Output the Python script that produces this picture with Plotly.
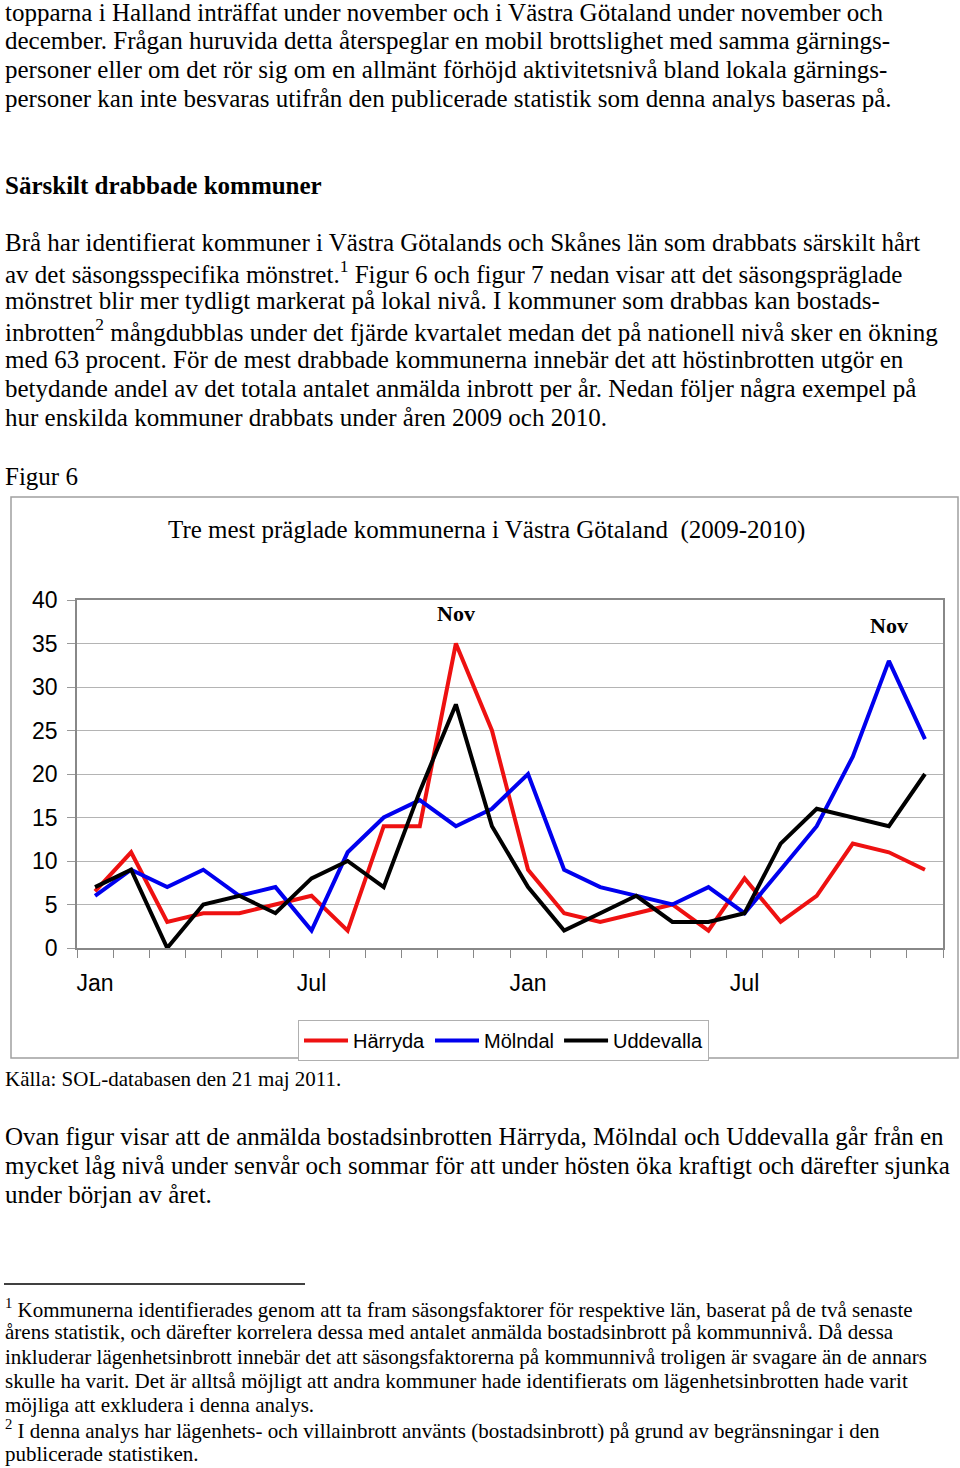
import plotly.graph_objects as go

W, H = 960, 1468

# ---------------- data ----------------
months = ["Jan", "Feb", "Mar", "Apr", "Maj", "Jun", "Jul", "Aug", "Sep", "Okt", "Nov", "Dec"] * 2
tick_positions = [0, 6, 12, 18]
tick_labels = ["Jan", "Jul", "Jan", "Jul"]

harryda = [6.5, 11, 3, 4, 4, 5, 6, 2, 14, 14, 35, 25,
           9, 4, 3, 4, 5, 2, 8, 3, 6, 12, 11, 9]
molndal = [6, 9, 7, 9, 6, 7, 2, 11, 15, 17, 14, 16,
           20, 9, 7, 6, 5, 7, 4, 9, 14, 22, 33, 24]
uddevalla = [7, 9, 0, 5, 6, 4, 8, 10, 7, 18, 28, 14,
             7, 2, 4, 6, 3, 3, 4, 12, 16, 15, 14, 20]

series_names = ["Härryda", "Mölndal", "Uddevalla"]
series_colors = ["#ee1111", "#0000ee", "#000000"]
peak_labels = [(10, "Nov", -1), (22, "Nov", 11)]

# ---------------- text ----------------
para1 = [
    "topparna i Halland inträffat under november och i Västra Götaland under november och",
    "december. Frågan huruvida detta återspeglar en mobil brottslighet med samma gärnings-",
    "personer eller om det rör sig om en allmänt förhöjd aktivitetsnivå bland lokala gärnings-",
    "personer kan inte besvaras utifrån den publicerade statistik som denna analys baseras på.",
]
para1_y = [12, 41, 70, 98]
heading = "<b>Särskilt drabbade kommuner</b>"
para2 = [
    "Brå har identifierat kommuner i Västra Götalands och Skånes län som drabbats särskilt hårt",
    "av det säsongsspecifika mönstret.<sup>1</sup> Figur 6 och figur 7 nedan visar att det säsongspräglade",
    "mönstret blir mer tydligt markerat på lokal nivå. I kommuner som drabbas kan bostads-",
    "inbrotten<sup>2</sup> mångdubblas under det fjärde kvartalet medan det på nationell nivå sker en ökning",
    "med 63 procent. För de mest drabbade kommunerna innebär det att höstinbrotten utgör en",
    "betydande andel av det totala antalet anmälda inbrott per år. Nedan följer några exempel på",
    "hur enskilda kommuner drabbats under åren 2009 och 2010.",
]
para2_y = [243, 272, 301, 330, 359, 388, 417]
para3 = [
    "Ovan figur visar att de anmälda bostadsinbrotten Härryda, Mölndal och Uddevalla går från en",
    "mycket låg nivå under senvår och sommar för att under hösten öka kraftigt och därefter sjunka",
    "under början av året.",
]
para3_y = [1136, 1165, 1194]
notes = [
    "<sup>1</sup> Kommunerna identifierades genom att ta fram säsongsfaktorer för respektive län, baserat på de två senaste",
    "årens statistik, och därefter korrelera dessa med antalet anmälda bostadsinbrott på kommunnivå. Då dessa",
    "inkluderar lägenhetsinbrott innebär det att säsongsfaktorerna på kommunnivå troligen är svagare än de annars",
    "skulle ha varit. Det är alltså möjligt att andra kommuner hade identifierats om lägenhetsinbrotten hade varit",
    "möjliga att exkludera i denna analys.",
    "<sup>2</sup> I denna analys har lägenhets- och villainbrott använts (bostadsinbrott) på grund av begränsningar i den",
    "publicerade statistiken.",
]
notes_y = [1308, 1332, 1357, 1381, 1405, 1429, 1454]

SERIF = "Liberation Serif, Times New Roman, serif"
SANS = "Liberation Sans, Arial, sans-serif"


def px(x):
    return x / W


def py(y):
    return 1 - y / H


x_idx = list(range(len(months)))

fig = go.Figure()
for name, vals, col in zip(series_names, [harryda, molndal, uddevalla], series_colors):
    fig.add_trace(go.Scatter(x=x_idx, y=vals, mode="lines", name=name,
                             line=dict(color=col, width=4)))

annotations = []


def add_text(text, x, y, size, font=SERIF, xanchor="left"):
    annotations.append(dict(text=text, x=px(x), y=py(y), xref="paper", yref="paper",
                            xanchor=xanchor, yanchor="middle", showarrow=False,
                            font=dict(family=font, size=size, color="black")))


for t, y in zip(para1, para1_y):
    add_text(t, 3, y, 25)
add_text(heading, 3, 185, 25)
for t, y in zip(para2, para2_y):
    add_text(t, 3, y, 25)
add_text("Figur 6", 3, 476, 25)
add_text("Tre mest präglade kommunerna i Västra Götaland  (2009-2010)", 486, 530, 25, xanchor="center")
add_text("Källa: SOL-databasen den 21 maj 2011.", 3, 1079, 21)
for t, y in zip(para3, para3_y):
    add_text(t, 3, y, 25)
for t, y in zip(notes, notes_y):
    add_text(t, 3, y, 21)

for xi, lab, shift in peak_labels:
    annotations.append(dict(text="<b>%s</b>" % lab, x=xi, y=40, xref="x", yref="y",
                            xanchor="center", yanchor="top", yshift=-shift, showarrow=False,
                            font=dict(family=SERIF, size=22, color="black")))

shapes = [
    dict(type="rect", xref="paper", yref="paper", x0=px(11), x1=px(958), y0=py(1058), y1=py(497),
         line=dict(color="#a0a0a0", width=1.5)),
    dict(type="line", xref="paper", yref="paper", x0=px(4), x1=px(305), y0=py(1284), y1=py(1284),
         line=dict(color="black", width=1.5)),
]

fig.update_layout(
    width=W, height=H,
    margin=dict(l=0, r=0, t=0, b=0, autoexpand=False),
    paper_bgcolor="white", plot_bgcolor="white",
    showlegend=True,
    legend=dict(orientation="h", x=px(298), y=py(1020), xanchor="left", yanchor="top",
                bordercolor="#b0b0b0", borderwidth=1,
                font=dict(family=SANS, size=20, color="black"),
                itemwidth=44, tracegroupgap=0),
    annotations=annotations,
    shapes=shapes,
    xaxis=dict(domain=[px(77), px(943)], range=[-0.5, len(months) - 0.5],
               tickmode="array", tickvals=tick_positions, ticktext=tick_labels, ticks="",
               ticklabelstandoff=14,
               tickfont=dict(family=SANS, size=23, color="black"),
               showgrid=False, zeroline=False,
               showline=True, linecolor="#888888", linewidth=1.5, mirror=True,
               minor=dict(tick0=-0.5, dtick=1, ticks="outside", ticklen=8,
                          tickcolor="#888888", tickwidth=1, showgrid=False)),
    yaxis=dict(domain=[py(948), py(600)], range=[0, 40], dtick=5,
               ticks="outside", ticklen=8, tickcolor="#999999",
               ticklabelstandoff=5,
               tickfont=dict(family=SANS, size=23, color="black"),
               showgrid=True, gridcolor="#b4b4b4", gridwidth=1.2, zeroline=False,
               showline=True, linecolor="#888888", linewidth=1.5, mirror=True),
)

fig.write_html("out.html", config={"displayModeBar": False},
               post_script="document.body.style.margin='0px';")
